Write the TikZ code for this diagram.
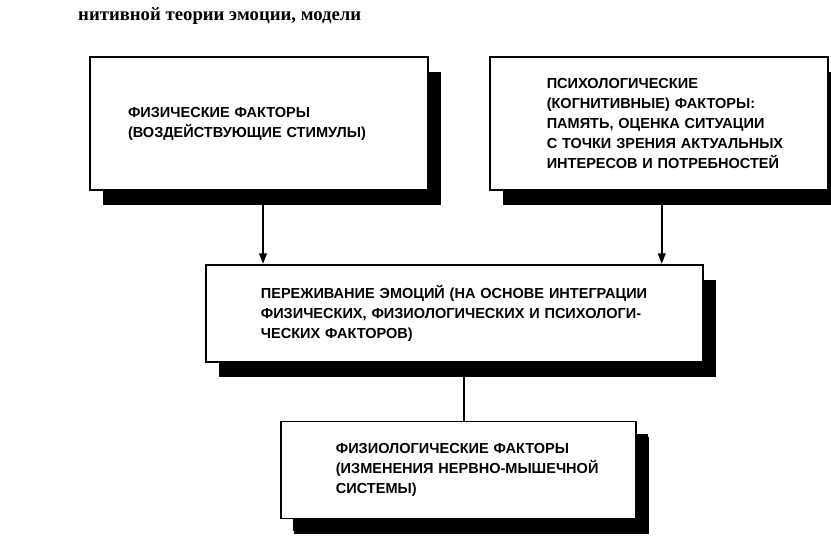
\documentclass[tikz,border=0pt]{standalone}
\usepackage{fontspec}
\setmainfont{Liberation Sans}
\newfontfamily\bookfont{Liberation Serif}
\usepackage{tikz}
\usetikzlibrary{arrows.meta, positioning, shadows}

\begin{document}
\begin{tikzpicture}[
    box/.style={rectangle, draw, line width=1.5pt, fill=white, inner xsep=0pt, align=left,
        font=\bfseries\fontsize{12.4}{17}\selectfont,
        drop shadow={shadow xshift=0.4cm, shadow yshift=-0.46cm, fill=black, opacity=1}},
    textpad/.style={execute at begin node={\leftskip=#1}},
    arrow/.style={-{Triangle[length=9pt,width=6.5pt]}, line width=1.4pt},
    link/.style={line width=1.4pt}
]
\useasboundingbox (0,0) rectangle (24.93,-16.29);

% Page text above the scheme
\node[anchor=base west, inner sep=0pt, font=\bookfont\bfseries\fontsize{16}{18}\selectfont] (caption) at (2.34,-0.62) {нитивной теории эмоции, модели};

% Row 1: factors
\node[box, text width=10.14cm, minimum height=3.99cm, textpad=1.14cm] (phys) at (7.77,-3.705) {ФИЗИЧЕСКИЕ ФАКТОРЫ\\(ВОЗДЕЙСТВУЮЩИЕ СТИМУЛЫ)};
\node[box, text width=10.14cm, minimum height=3.99cm, textpad=1.71cm, right=1.8cm of phys] (cogn) {ПСИХОЛОГИЧЕСКИЕ\\(КОГНИТИВНЫЕ) ФАКТОРЫ:\\ПАМЯТЬ, ОЦЕНКА СИТУАЦИИ\\С ТОЧКИ ЗРЕНИЯ АКТУАЛЬНЫХ\\ИНТЕРЕСОВ И ПОТРЕБНОСТЕЙ};

% Row 2: experience
\node[box, text width=14.91cm, minimum height=2.91cm, textpad=1.65cm, below=2.19cm of phys.south east, xshift=0.765cm] (emo) {ПЕРЕЖИВАНИЕ ЭМОЦИЙ (НА ОСНОВЕ ИНТЕГРАЦИИ\\ФИЗИЧЕСКИХ, ФИЗИОЛОГИЧЕСКИХ И ПСИХОЛОГИ-\\ЧЕСКИХ ФАКТОРОВ)};

% Row 3: physiology
\node[box, text width=10.65cm, minimum height=2.91cm, textpad=1.65cm, below=1.74cm of emo, xshift=0.12cm,
    drop shadow={shadow xshift=0.36cm, shadow yshift=-0.36cm, fill=black, opacity=1}] (physio) {ФИЗИОЛОГИЧЕСКИЕ ФАКТОРЫ\\(ИЗМЕНЕНИЯ НЕРВНО-МЫШЕЧНОЙ\\СИСТЕМЫ)};

% Connectors
\draw[arrow] ([xshift=0.12cm]phys.south) -- ([xshift=0.12cm]phys.south |- emo.north);
\draw[arrow] ([xshift=0.09cm]cogn.south) -- ([xshift=0.09cm]cogn.south |- emo.north);
\draw[link] ([xshift=0.16cm]physio.north |- emo.south) -- ([xshift=0.16cm]physio.north);

\end{tikzpicture}
\end{document}
